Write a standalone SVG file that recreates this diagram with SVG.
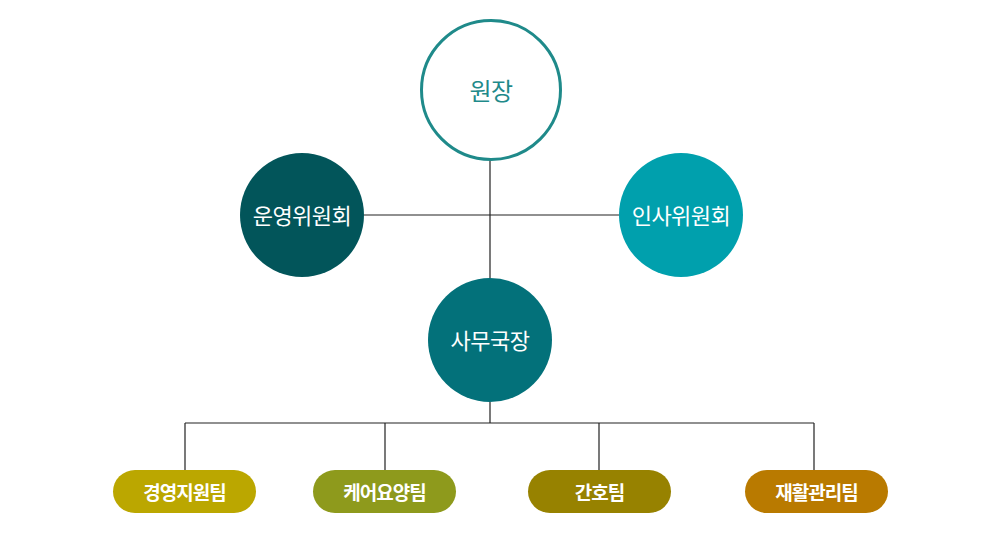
<svg xmlns="http://www.w3.org/2000/svg" width="984" height="537" viewBox="0 0 984 537">
<style>
text{font-family:"Noto Sans CJK KR","Noto Sans",sans-serif;text-anchor:middle;dominant-baseline:central}
.c{font-size:22px;fill:#fff;font-weight:normal;letter-spacing:-0.5px}
.p{font-size:19px;fill:#fff;font-weight:bold;letter-spacing:-1px}
.ln{stroke:#222;stroke-width:1.2;fill:none}
</style>
<rect width="984" height="537" fill="#fff"/>
<g id="connectors">
<path class="ln" d="M490 160V278M364 215H619M490 402V423M185 423H814M185 423V470M385 423V470M599 423V470M814 423V470"/>
</g>
<g id="n-wonjang"><circle cx="491" cy="90" r="69.5" fill="#fff" stroke="#1f8a8a" stroke-width="3"/><text class="c" x="491" y="89" style="fill:#1f8a8a;font-size:24px">원장</text></g>
<g id="n-unyoung"><circle cx="302" cy="215" r="62" fill="#02555a"/><text class="c" x="302" y="214">운영위원회</text></g>
<g id="n-insa"><circle cx="681" cy="215" r="62" fill="#00a0ad"/><text class="c" x="681" y="214">인사위원회</text></g>
<g id="n-samu"><circle cx="490" cy="340" r="62" fill="#03717a"/><text class="c" x="490" y="339">사무국장</text></g>
<g id="n-t1"><rect x="113" y="470" width="143" height="43" rx="22" fill="#bba700"/><text class="p" x="184.5" y="491">경영지원팀</text></g>
<g id="n-t2"><rect x="313" y="470" width="143" height="43" rx="22" fill="#8e9a1c"/><text class="p" x="384.5" y="491">케어요양팀</text></g>
<g id="n-t3"><rect x="528" y="470" width="143" height="43" rx="22" fill="#978200"/><text class="p" x="599.5" y="491">간호팀</text></g>
<g id="n-t4"><rect x="745" y="470" width="143" height="43" rx="22" fill="#b97a00"/><text class="p" x="816.5" y="491">재활관리팀</text></g>
</svg>
